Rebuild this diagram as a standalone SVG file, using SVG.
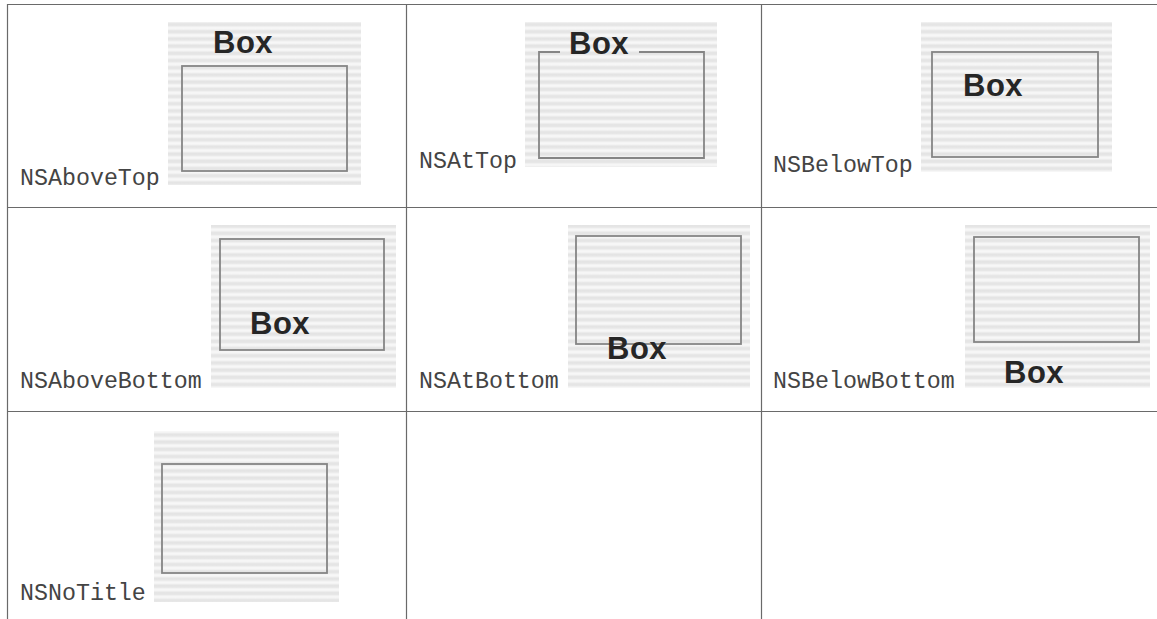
<svg xmlns="http://www.w3.org/2000/svg" width="1157" height="619" viewBox="0 0 1157 619">
<defs>
<linearGradient id="band" x1="0" y1="0" x2="0" y2="1">
<stop offset="0" stop-color="#f7f7f7"/>
<stop offset="0.3" stop-color="#e4e4e4"/>
<stop offset="0.55" stop-color="#e6e6e6"/>
<stop offset="0.8" stop-color="#f6f6f6"/>
<stop offset="1" stop-color="#f7f7f7"/>
</linearGradient>
<pattern id="stripes" width="8" height="7.2" patternUnits="userSpaceOnUse">
<rect x="0" y="0" width="8" height="7.2" fill="url(#band)"/>
</pattern>
</defs>
<style>
.grid{stroke:#6a6a6a;stroke-width:1.2;fill:none}
.panel{fill:url(#stripes)}
.box{fill:none;stroke:#858585;stroke-width:1.8}
.title{font-family:"Liberation Sans",Arial,sans-serif;font-weight:bold;font-size:31px;letter-spacing:0.5px;fill:#262626}
.label{font-family:"Liberation Mono","DejaVu Sans Mono",monospace;font-size:23.3px;fill:#444}
</style>
<rect x="0" y="0" width="1157" height="619" fill="#ffffff"/>
<g id="grid">
<line class="grid" x1="7" y1="4.5" x2="1157" y2="4.5"/>
<line class="grid" x1="7" y1="207.5" x2="1157" y2="207.5"/>
<line class="grid" x1="7" y1="411.5" x2="1157" y2="411.5"/>
<line class="grid" x1="7.5" y1="4" x2="7.5" y2="619"/>
<line class="grid" x1="406.5" y1="4" x2="406.5" y2="619"/>
<line class="grid" x1="761.5" y1="4" x2="761.5" y2="619"/>
</g>
<g id="cell-aboveTop">
<rect class="panel" x="168" y="22" width="193" height="163"/>
<rect class="box" x="182" y="66" width="165" height="105"/>
<text class="title" x="213" y="53">Box</text>
<text class="label" x="20" y="185">NSAboveTop</text>
</g>
<g id="cell-atTop">
<rect class="panel" x="525" y="22" width="192" height="145"/>
<path class="box" d="M560,52 H539 V158 H704 V52 H639"/>
<text class="title" x="569" y="54">Box</text>
<text class="label" x="419" y="168">NSAtTop</text>
</g>
<g id="cell-belowTop">
<rect class="panel" x="921" y="22" width="191" height="150"/>
<rect class="box" x="932" y="52" width="166" height="105"/>
<text class="title" x="963" y="96">Box</text>
<text class="label" x="773" y="172">NSBelowTop</text>
</g>
<g id="cell-aboveBottom">
<rect class="panel" x="211" y="225" width="185" height="163"/>
<rect class="box" x="220" y="239" width="164" height="111"/>
<text class="title" x="250" y="334">Box</text>
<text class="label" x="20" y="388">NSAboveBottom</text>
</g>
<g id="cell-atBottom">
<rect class="panel" x="568" y="225" width="182" height="163"/>
<rect class="box" x="576" y="236" width="165" height="108"/>
<text class="title" x="607" y="359">Box</text>
<text class="label" x="419" y="388">NSAtBottom</text>
</g>
<g id="cell-belowBottom">
<rect class="panel" x="965" y="225" width="185" height="163"/>
<rect class="box" x="974" y="237" width="165" height="105"/>
<text class="title" x="1004" y="383">Box</text>
<text class="label" x="773" y="388">NSBelowBottom</text>
</g>
<g id="cell-noTitle">
<rect class="panel" x="154" y="431" width="185" height="171"/>
<rect class="box" x="162" y="464" width="165" height="109"/>
<text class="label" x="20" y="600">NSNoTitle</text>
</g>
</svg>
